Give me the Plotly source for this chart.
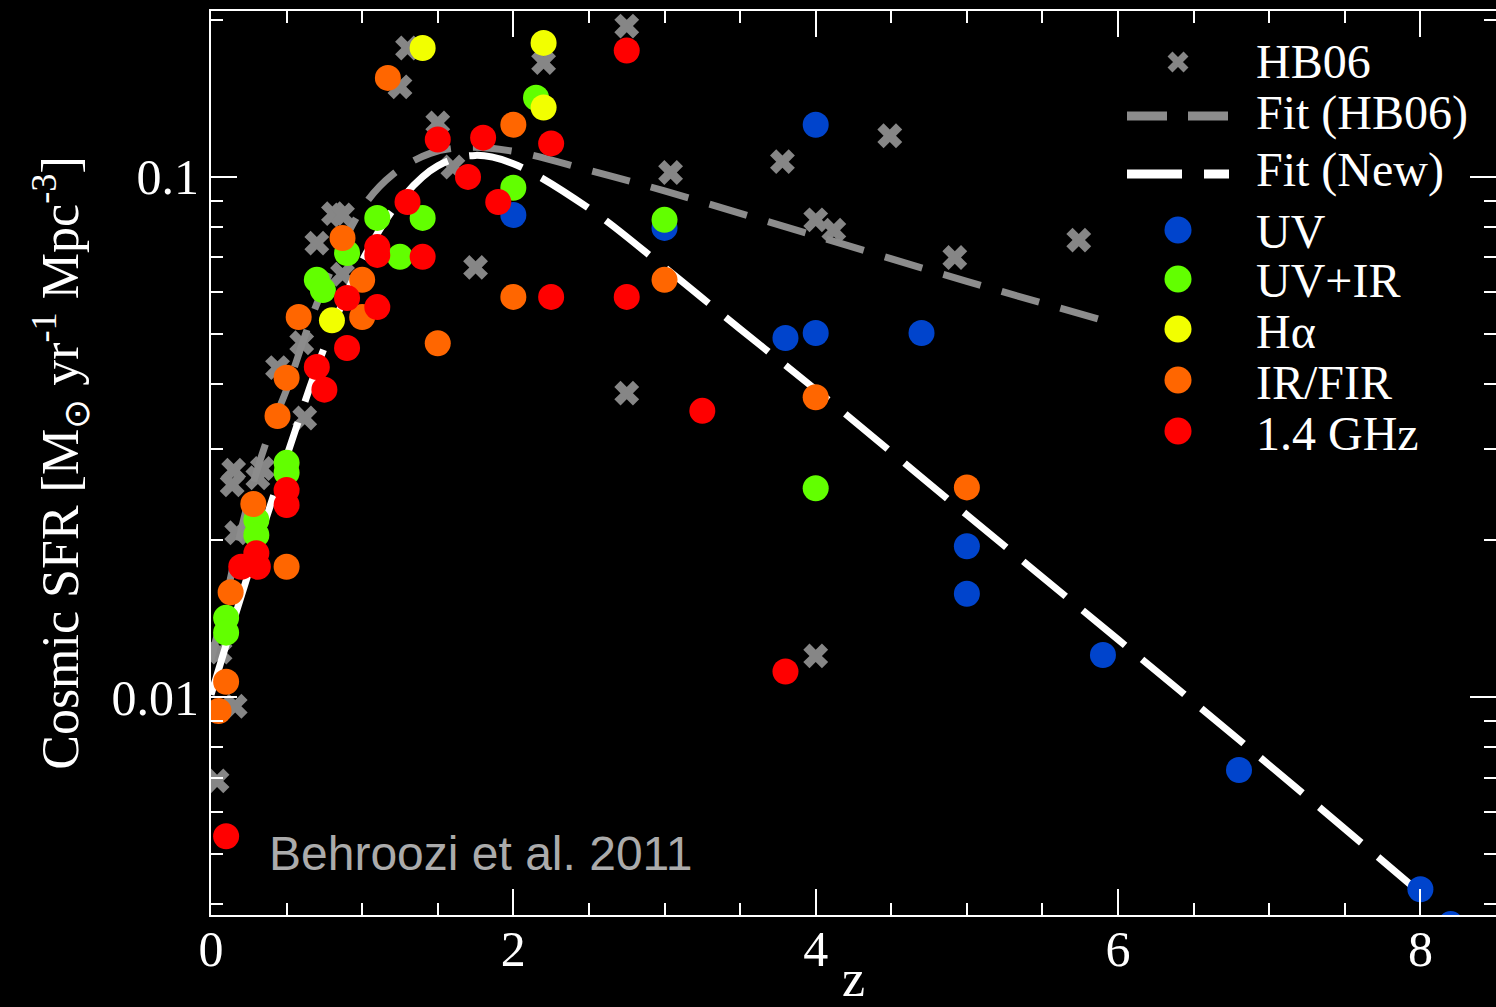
import plotly.graph_objects as go

# ---- data: cosmic star formation rate density vs redshift ----
hb06_z = [2.75, 1.30, 1.25, 2.20, 1.50, 1.60, 3.04, 3.78, 4.49, 4.00, 4.12, 4.92, 5.74,
          1.75, 2.75, 4.00, 0.81, 0.87, 0.70, 0.87, 0.60, 0.44, 0.62, 0.15, 0.14,
          0.31, 0.34, 0.17, 0.06, 0.16, 0.04]
hb06_sfr = [0.195, 0.177, 0.149, 0.166, 0.127, 0.1045, 0.102, 0.107, 0.120, 0.0827, 0.079,
            0.070, 0.0756, 0.067, 0.0384, 0.0120, 0.085, 0.0845, 0.0746, 0.065, 0.048,
            0.043, 0.0344, 0.0273, 0.0256, 0.0264, 0.0275, 0.0207, 0.0122, 0.0096, 0.0069]

fit_hb06_z = [0.0, 0.1, 0.2, 0.3, 0.4, 0.5, 0.7, 1.0, 1.2, 1.45, 1.7, 2.0, 2.5, 3.0, 4.0, 5.0, 6.0]
fit_hb06_sfr = [0.0118, 0.0155, 0.021, 0.027, 0.033, 0.039, 0.057, 0.087, 0.101, 0.111,
                0.114, 0.112, 0.103, 0.094, 0.077, 0.063, 0.052]

fit_new_z = [0.0, 0.1, 0.25, 0.5, 0.75, 1.0, 1.25, 1.5, 1.75, 2.0, 2.5, 3.0, 3.5, 4.0,
             5.0, 6.0, 7.0, 8.0]
fit_new_sfr = [0.0101, 0.0126, 0.0174, 0.029, 0.047, 0.069, 0.090, 0.105, 0.110, 0.106,
               0.087, 0.067, 0.051, 0.039, 0.0224, 0.0129, 0.0074, 0.0042]

uv_z = [2.0, 3.0, 4.0, 3.8, 4.0, 4.7, 5.0, 5.0, 5.9, 6.8, 8.0, 8.2]
uv_sfr = [0.0845, 0.0798, 0.126, 0.049, 0.0501, 0.0501, 0.0195, 0.0158, 0.01205, 0.00724,
          0.00427, 0.00366]

uvir_z = [2.0, 2.15, 3.0, 4.0, 1.1, 1.4, 1.25, 0.9, 0.7, 0.74, 0.5, 0.5, 0.3, 0.3, 0.1, 0.1]
uvir_sfr = [0.0953, 0.142, 0.0827, 0.0252, 0.0834, 0.0834, 0.0702, 0.0714, 0.0634, 0.0606,
            0.0282, 0.0270, 0.0219, 0.0205, 0.0142, 0.0133]

ha_z = [1.4, 2.2, 2.2, 0.8]
ha_sfr = [0.177, 0.181, 0.136, 0.053]

ir_z = [1.17, 2.0, 0.87, 1.0, 1.0, 0.58, 1.5, 0.5, 0.44, 0.28, 0.5, 0.13, 0.1, 0.05,
        2.0, 3.0, 4.0, 5.0]
ir_sfr = [0.155, 0.126, 0.0763, 0.0634, 0.0538, 0.0538, 0.0479, 0.0411, 0.0347, 0.0235,
          0.0178, 0.0159, 0.0107, 0.0094, 0.0588, 0.0634, 0.0377, 0.0253]

radio_z = [2.75, 1.5, 1.8, 2.25, 1.7, 1.3, 1.9, 1.1, 1.1, 1.4, 0.9, 1.1, 0.9, 0.7, 0.75,
           0.5, 0.5, 0.3, 0.2, 0.31, 2.25, 2.75, 3.25, 3.8, 0.1]
radio_sfr = [0.175, 0.118, 0.119, 0.116, 0.100, 0.0895, 0.0895, 0.0733, 0.0708, 0.0702,
             0.0585, 0.0562, 0.0469, 0.0431, 0.0390, 0.0250, 0.0234, 0.0189, 0.0178, 0.0178,
             0.0588, 0.0588, 0.0355, 0.0112, 0.0054]

x_ticks = [0, 2, 4, 6, 8]
y_ticks = [0.01, 0.1]
y_tick_text = ["0.01", "0.1"]
y_minor = [0.004, 0.005, 0.006, 0.007, 0.008, 0.009,
           0.02, 0.03, 0.04, 0.05, 0.06, 0.07, 0.08, 0.09, 0.2]

# ---- styling ----
SERIF = "Liberation Serif, Times New Roman, serif"
SANS = "Liberation Sans, Arial, sans-serif"
GREY_X = "#868686"
GREY_FIT = "#8c8c8c"
COLORS = {"UV": "#0044cc", "UV+IR": "#62ff00", "Hα": "#f2ff00",
          "IR/FIR": "#ff6600", "1.4 GHz": "#ff0000"}
HB06_DASH = "39px,22px"
NEW_DASH = "55px,22px"

W, H = 1496, 1007
ML, MR, MT, MB = 211, 0, 11, 92


def px_x(px):
    """Horizontal pixel position -> paper fraction."""
    return (px - ML) / (W - ML - MR)


def px_y(py):
    """Vertical pixel position (from top) -> paper fraction."""
    return (H - MB - py) / (H - MT - MB)


def dots(z, sfr, name):
    return go.Scatter(x=z, y=sfr, mode="markers", name=name, showlegend=False,
                      marker=dict(symbol="circle", size=26, color=COLORS[name],
                                  line=dict(width=0)))


fig = go.Figure()
fig.add_trace(go.Scatter(x=hb06_z, y=hb06_sfr, mode="markers", name="HB06", showlegend=False,
                         marker=dict(symbol="x", size=22, color=GREY_X, line=dict(width=0))))
fig.add_trace(go.Scatter(x=fit_hb06_z, y=fit_hb06_sfr, mode="lines", name="Fit (HB06)",
                         showlegend=False,
                         line=dict(color=GREY_FIT, width=7, dash=HB06_DASH, shape="spline")))
fig.add_trace(go.Scatter(x=fit_new_z, y=fit_new_sfr, mode="lines", name="Fit (New)",
                         showlegend=False,
                         line=dict(color="white", width=7, dash=NEW_DASH, shape="spline")))
fig.add_trace(dots(uv_z, uv_sfr, "UV"))
fig.add_trace(dots(uvir_z, uvir_sfr, "UV+IR"))
fig.add_trace(dots(ha_z, ha_sfr, "Hα"))
fig.add_trace(dots(ir_z, ir_sfr, "IR/FIR"))
fig.add_trace(dots(radio_z, radio_sfr, "1.4 GHz"))

axis_common = dict(showline=True, linecolor="white", linewidth=2, mirror="allticks",
                   ticks="inside", tickcolor="white", tickwidth=2, ticklen=26,
                   showgrid=False, zeroline=False, automargin=False,
                   tickfont=dict(family=SERIF, size=50, color="white"))

fig.update_xaxes(range=[0, 8.5], tickvals=x_ticks, ticklabelstandoff=-11,
                 minor=dict(dtick=0.5, ticks="inside", ticklen=12, tickcolor="white", tickwidth=2),
                 title=dict(text="z", font=dict(family=SERIF, size=52, color="white"), standoff=12),
                 **axis_common)
fig.update_yaxes(type="log", range=[-2.419, -0.681], tickvals=y_ticks, ticktext=y_tick_text,
                 minor=dict(tickvals=y_minor, ticks="inside", ticklen=12, tickcolor="white",
                            tickwidth=2),
                 title=dict(text="Cosmic SFR [M<sub>⊙</sub> yr<sup>-1</sup> Mpc<sup>-3</sup>]",
                            font=dict(family=SERIF, size=52, color="white"), standoff=16),
                 **axis_common)

fig.add_annotation(text="Behroozi et al. 2011", xref="paper", yref="paper",
                   x=px_x(267), y=px_y(853), xanchor="left", yanchor="middle", showarrow=False,
                   font=dict(family=SANS, size=48, color="#ababab"))

# ---- key (drawn as layout shapes + text, top right) ----
KEY_GLYPH_X = 1178
KEY_TEXT_X = 1254
KEY_LINE_X0, KEY_LINE_X1 = 1127, 1229
key_rows = [("HB06", 62, 62), ("Fit (HB06)", 116, 113), ("Fit (New)", 174, 170),
            ("UV", 230, 231), ("UV+IR", 279, 281), ("Hα", 329, 331),
            ("IR/FIR", 380, 382), ("1.4 GHz", 431, 433)]

shapes = []
for label, gy, ty in key_rows:
    if label == "HB06":
        shapes.append(dict(type="path", xref="paper", yref="paper",
                           xsizemode="pixel", ysizemode="pixel",
                           xanchor=px_x(KEY_GLYPH_X), yanchor=px_y(gy),
                           path="M-8,-8L8,8M-8,8L8,-8",
                           line=dict(color=GREY_X, width=7)))
    elif label.startswith("Fit"):
        is_new = label == "Fit (New)"
        shapes.append(dict(type="line", xref="paper", yref="paper",
                           x0=px_x(KEY_LINE_X0), x1=px_x(KEY_LINE_X1),
                           y0=px_y(gy), y1=px_y(gy),
                           line=dict(color="white" if is_new else GREY_FIT, width=9,
                                     dash=NEW_DASH if is_new else "40px,21px")))
    else:
        shapes.append(dict(type="circle", xref="paper", yref="paper",
                           xsizemode="pixel", ysizemode="pixel",
                           xanchor=px_x(KEY_GLYPH_X), yanchor=px_y(gy),
                           x0=-13.5, x1=13.5, y0=-13.5, y1=13.5,
                           fillcolor=COLORS[label], line=dict(width=0)))
    fig.add_annotation(text=label, xref="paper", yref="paper", x=px_x(KEY_TEXT_X), y=px_y(ty),
                       xanchor="left", yanchor="middle", showarrow=False,
                       font=dict(family=SERIF, size=48, color="white"))

fig.update_layout(
    width=W, height=H,
    paper_bgcolor="black", plot_bgcolor="black",
    margin=dict(l=ML, r=MR, t=MT, b=MB),
    showlegend=False,
    shapes=shapes,
)

fig.write_html("out.html")
